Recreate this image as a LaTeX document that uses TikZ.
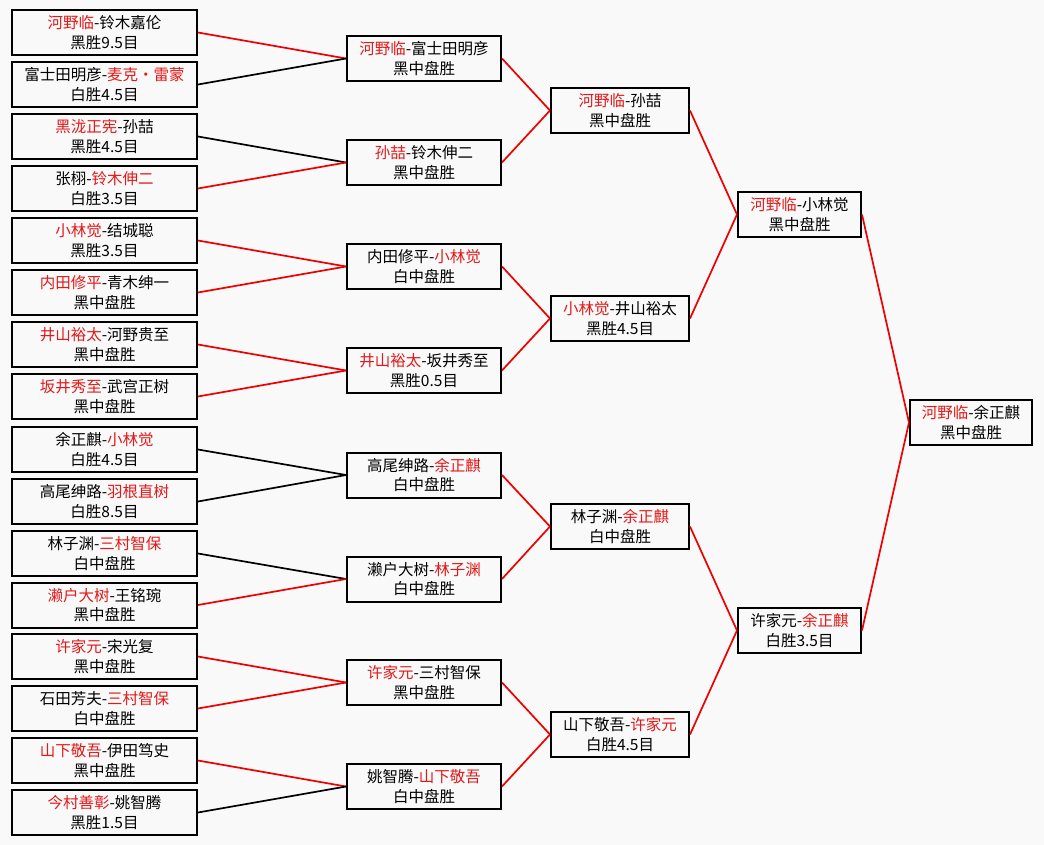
\documentclass[tikz,border=0pt]{standalone}
\usepackage{xcolor}
\usepackage{fontspec}
\setmainfont{Noto Sans CJK SC}
\usepackage{tikz}
\usetikzlibrary{positioning}
\definecolor{rojo}{RGB}{228,24,24}
\definecolor{linea}{RGB}{238,0,0}
\definecolor{fondo}{RGB}{249,249,249}
\newcommand{\gana}[1]{\textcolor{rojo}{#1}}

\begin{document}
\begin{tikzpicture}[x=1pt, y=-1pt,
  caja/.style={draw=black, line width=2pt, fill=fondo, inner sep=0pt,
               minimum width=#1, minimum height=45pt, align=center,
               font=\fontsize{15.5}{19.5}\selectfont},
  caja/.default=185pt,
  sube/.style={draw=linea, line width=1.7pt},
  cae/.style={draw=black, line width=1.7pt}]
  \fill[fondo] (0,0) rectangle (1044,845);
  \useasboundingbox (0,0) rectangle (1044,845);
  % primera ronda
  \node[caja] (p1)  at (104.5,32.5)  {\gana{河野临}-铃木嘉伦\\黑胜9.5目};
  \node[caja] (p2)  at (104.5,84.5)  {富士田明彦-\gana{麦克·雷蒙}\\白胜4.5目};
  \node[caja] (p3)  at (104.5,136.5) {\gana{黑泷正宪}-孙喆\\黑胜4.5目};
  \node[caja] (p4)  at (104.5,188.5) {张栩-\gana{铃木伸二}\\白胜3.5目};
  \node[caja] (p5)  at (104.5,240.5) {\gana{小林觉}-结城聪\\黑胜3.5目};
  \node[caja] (p6)  at (104.5,292.5) {\gana{内田修平}-青木绅一\\黑中盘胜};
  \node[caja] (p7)  at (104.5,344.5) {\gana{井山裕太}-河野贵至\\黑中盘胜};
  \node[caja] (p8)  at (104.5,396.5) {\gana{坂井秀至}-武宫正树\\黑中盘胜};
  \node[caja] (p9)  at (104.5,449.5) {余正麒-\gana{小林觉}\\白胜4.5目};
  \node[caja] (p10) at (104.5,501.5) {高尾绅路-\gana{羽根直树}\\白胜8.5目};
  \node[caja] (p11) at (104.5,553.5) {林子渊-\gana{三村智保}\\白中盘胜};
  \node[caja] (p12) at (104.5,605)   {\gana{濑户大树}-王铭琬\\黑中盘胜};
  \node[caja] (p13) at (104.5,656.5) {\gana{许家元}-宋光复\\黑中盘胜};
  \node[caja] (p14) at (104.5,708.5) {石田芳夫-\gana{三村智保}\\白中盘胜};
  \node[caja] (p15) at (104.5,760.5) {\gana{山下敬吾}-伊田笃史\\黑中盘胜};
  \node[caja] (p16) at (104.5,812.5) {\gana{今村善彰}-姚智腾\\黑胜1.5目};
  % segunda ronda
  \node[caja=154pt] (q1) at (424,58.5)  {\gana{河野临}-富士田明彦\\黑中盘胜};
  \node[caja=154pt] (q2) at (424,162.5) {\gana{孙喆}-铃木伸二\\黑中盘胜};
  \node[caja=154pt] (q3) at (424,266.5) {内田修平-\gana{小林觉}\\白中盘胜};
  \node[caja=154pt] (q4) at (424,370.5) {\gana{井山裕太}-坂井秀至\\黑胜0.5目};
  \node[caja=154pt] (q5) at (424,475)   {高尾绅路-\gana{余正麒}\\白中盘胜};
  \node[caja=154pt] (q6) at (424,579)   {濑户大树-\gana{林子渊}\\白中盘胜};
  \node[caja=154pt] (q7) at (424,682.5) {\gana{许家元}-三村智保\\黑中盘胜};
  \node[caja=154pt] (q8) at (424,786.5) {姚智腾-\gana{山下敬吾}\\白中盘胜};
  % cuartos
  \node[caja=138pt] (s1) at (620,110.5) {\gana{河野临}-孙喆\\黑中盘胜};
  \node[caja=138pt] (s2) at (620,318.5) {\gana{小林觉}-井山裕太\\黑胜4.5目};
  \node[caja=138pt] (s3) at (620,526.5) {林子渊-\gana{余正麒}\\白中盘胜};
  \node[caja=138pt] (s4) at (620,734.5) {山下敬吾-\gana{许家元}\\白胜4.5目};
  % semifinales y final
  \node[caja=123pt] (c1) at (799.5,214.5) {\gana{河野临}-小林觉\\黑中盘胜};
  \node[caja=123pt] (c2) at (799.5,630.5) {许家元-\gana{余正麒}\\白胜3.5目};
  \node[caja=122pt] (fin) at (971,422.5)  {\gana{河野临}-余正麒\\黑中盘胜};
  % enlaces
  \draw[sube] (p1.east)  -- (q1.west);
  \draw[cae]  (p2.east)  -- (q1.west);
  \draw[cae]  (p3.east)  -- (q2.west);
  \draw[sube] (p4.east)  -- (q2.west);
  \draw[sube] (p5.east)  -- (q3.west);
  \draw[sube] (p6.east)  -- (q3.west);
  \draw[sube] (p7.east)  -- (q4.west);
  \draw[sube] (p8.east)  -- (q4.west);
  \draw[cae]  (p9.east)  -- (q5.west);
  \draw[cae]  (p10.east) -- (q5.west);
  \draw[cae]  (p11.east) -- (q6.west);
  \draw[sube] (p12.east) -- (q6.west);
  \draw[sube] (p13.east) -- (q7.west);
  \draw[sube] (p14.east) -- (q7.west);
  \draw[sube] (p15.east) -- (q8.west);
  \draw[cae]  (p16.east) -- (q8.west);
  \draw[sube] (q1.east) -- (s1.west);
  \draw[sube] (q2.east) -- (s1.west);
  \draw[sube] (q3.east) -- (s2.west);
  \draw[sube] (q4.east) -- (s2.west);
  \draw[sube] (q5.east) -- (s3.west);
  \draw[sube] (q6.east) -- (s3.west);
  \draw[sube] (q7.east) -- (s4.west);
  \draw[sube] (q8.east) -- (s4.west);
  \draw[sube] (s1.east) -- (c1.west);
  \draw[sube] (s2.east) -- (c1.west);
  \draw[sube] (s3.east) -- (c2.west);
  \draw[sube] (s4.east) -- (c2.west);
  \draw[sube] (c1.east) -- (fin.west);
  \draw[sube] (c2.east) -- (fin.west);
\end{tikzpicture}
\end{document}
